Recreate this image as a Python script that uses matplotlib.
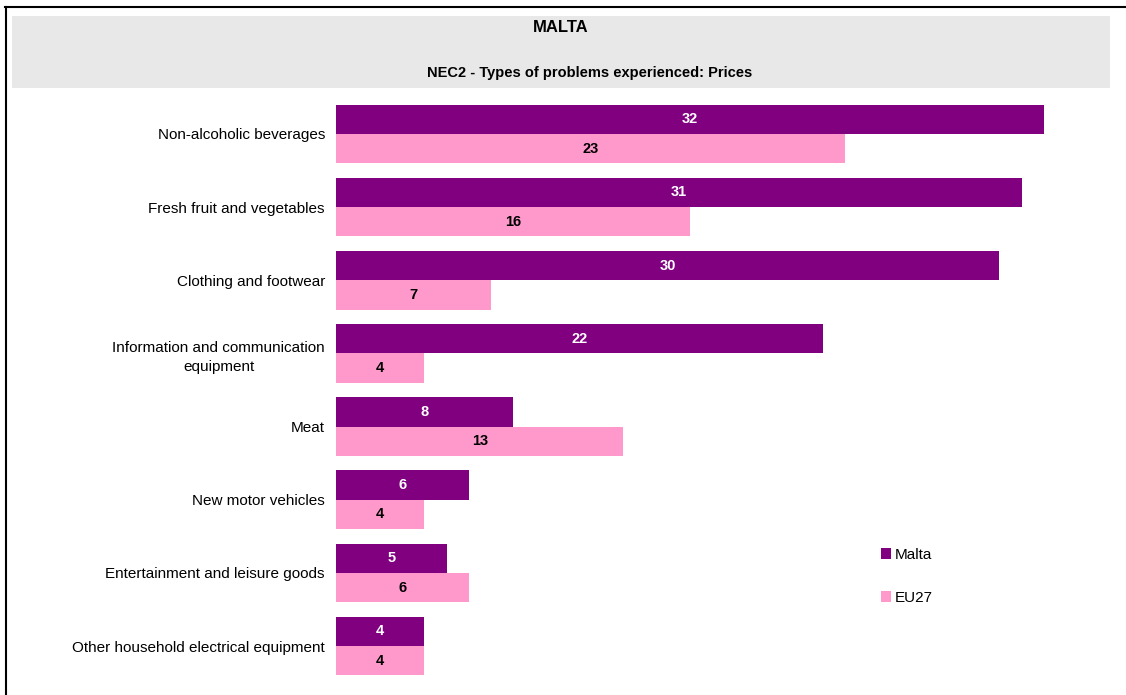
import numpy as np
import matplotlib.pyplot as plt
from matplotlib.lines import Line2D
from matplotlib.patches import Rectangle

plt.rcParams["font.family"] = ["Liberation Sans", "DejaVu Sans"]

categories = [
    "Non-alcoholic beverages",
    "Fresh fruit and vegetables",
    "Clothing and footwear",
    "Information and communication\nequipment",
    "Meat",
    "New motor vehicles",
    "Entertainment and leisure goods",
    "Other household electrical equipment",
]
malta = [32, 31, 30, 22, 8, 6, 5, 4]
eu27 = [23, 16, 7, 4, 13, 4, 6, 4]

MALTA_COLOR = "#800080"
EU_COLOR = "#FF99CC"

W, H = 1126, 695
fig = plt.figure(figsize=(W / 100, H / 100), dpi=100)


def fx(px):
    return px / W


def fy(py):
    return 1 - py / H


# frame lines
fig.add_artist(Line2D([fx(5), fx(1126)], [fy(7), fy(7)], color="black", lw=1.5))
fig.add_artist(Line2D([fx(5.5), fx(5.5)], [fy(7), fy(695)], color="black", lw=1.5))

# grey header box
fig.add_artist(Rectangle((fx(12), fy(88)), fx(1110) - fx(12), fy(16) - fy(88),
                         transform=fig.transFigure, facecolor="#E8E8E8",
                         edgecolor="none"))
fig.text(fx(561), fy(28), "MALTA", fontsize=12, fontweight="bold",
         ha="center", va="center")
fig.text(fx(590), fy(73), "NEC2 - Types of problems experienced: Prices",
         fontsize=10.5, fontweight="bold", ha="center", va="center")

top, bottom = 97.4, 682.6
ax = fig.add_axes([fx(336), fy(bottom), fx(1110) - fx(336), fy(top) - fy(bottom)])

y = np.arange(len(categories))
h = 0.4
ax.barh(y - h / 2, malta, height=h, color=MALTA_COLOR, label="Malta")
ax.barh(y + h / 2, eu27, height=h, color=EU_COLOR, label="EU27")

for yi, m, e in zip(y, malta, eu27):
    ax.text(m / 2, yi - h / 2, str(m), color="white", fontsize=10.5,
            fontweight="bold", ha="center", va="center")
    ax.text(e / 2, yi + h / 2, str(e), color="black", fontsize=10.5,
            fontweight="bold", ha="center", va="center")

ax.set_xlim(0, 35)
ax.set_ylim(len(categories) - 0.5, -0.5)
ax.set_yticks(y)
ax.set_yticklabels(categories, fontsize=11, ha="right",
                   multialignment="center", linespacing=1.45)
ax.tick_params(axis="y", length=0, pad=8)
ax.set_xticks([])
for s in ax.spines.values():
    s.set_visible(False)

ax.legend(loc="upper left", bbox_to_anchor=(fx(873), fy(540)),
          bbox_transform=fig.transFigure, frameon=False, fontsize=11,
          handlelength=0.7, handleheight=0.7, handletextpad=0.25,
          labelspacing=1.9, borderpad=0)

fig.savefig("out.png", dpi=100)
